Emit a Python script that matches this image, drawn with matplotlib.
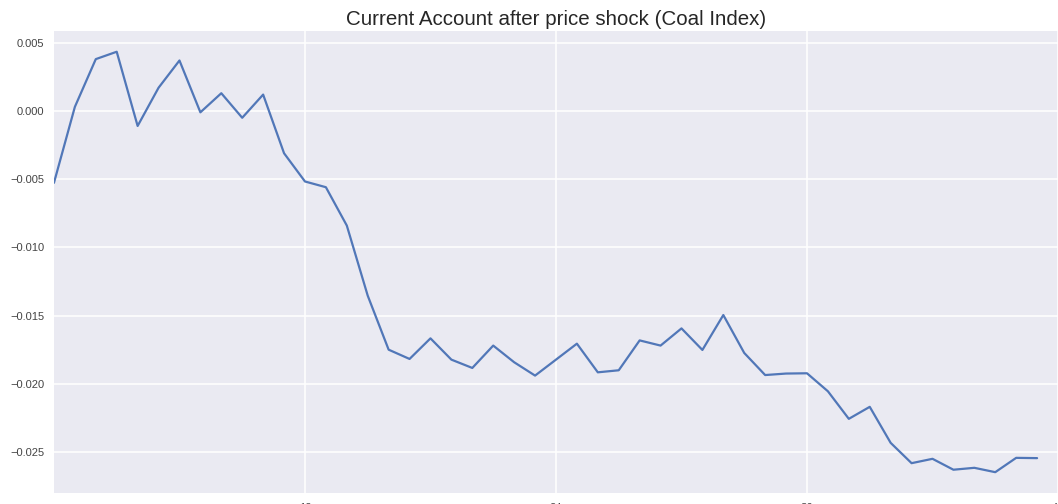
import numpy as np
import matplotlib.pyplot as plt

plt.style.use('seaborn-v0_8-darkgrid')
plt.rcParams['font.family'] = ['Liberation Sans', 'DejaVu Sans']

# horizon (months after shock) and response of the current account
horizon = np.arange(48)
current_account = [
    -0.00527, 0.0003, 0.0038, 0.00434, -0.0011, 0.0017, 0.0037, -0.0001,
    0.0013, -0.0005, 0.0012, -0.0031, -0.00517, -0.00559, -0.0084, -0.01354,
    -0.0175, -0.01818, -0.01667, -0.01823, -0.01884, -0.0172, -0.01842, -0.0194,
    -0.01823, -0.01706, -0.01916, -0.01901, -0.01682, -0.0172, -0.01594, -0.01752,
    -0.01496, -0.01774, -0.01936, -0.01925, -0.01923, -0.02055, -0.02257, -0.02169,
    -0.02433, -0.02582, -0.0255, -0.0263, -0.02616, -0.02648, -0.02543, -0.02545,
]
x_ticks = [12, 24, 36, 48]
y_ticks = [0.005, 0.0, -0.005, -0.010, -0.015, -0.020, -0.025]

fig = plt.figure(figsize=(10.58, 5.04), dpi=100)
ax = fig.add_axes([0.051, 0.022, 0.949, 0.917])
ax.plot(horizon, current_account, color='#5177B8', linewidth=1.6)

ax.set_xlim(0, 47.72)
ax.set_ylim(-0.0280, 0.00588)
ax.set_xticks(x_ticks)
ax.set_yticks(y_ticks)
ax.set_yticklabels([f'{v:.3f}'.replace('-', '\u2212') for v in y_ticks])
ax.tick_params(axis='both', labelsize=8, colors='#444444', pad=7, length=0)
ax.set_facecolor('#EAEAF2')
ax.grid(True, color='white', linewidth=1.1)
ax.set_title('Current Account after price shock (Coal Index)', fontsize=14.8,
             color='#262626', pad=4)

fig.savefig('out.png', dpi=100, facecolor='white')
